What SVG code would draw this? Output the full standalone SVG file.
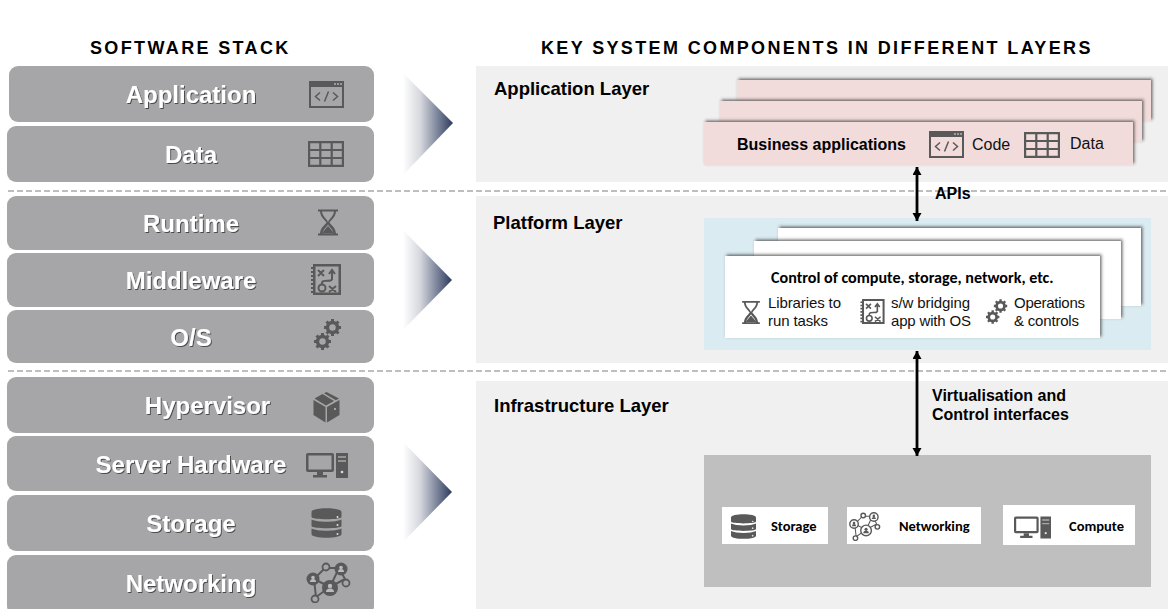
<svg xmlns="http://www.w3.org/2000/svg" width="1168" height="609" viewBox="0 0 1168 609">
<style>
text{font-family:"Liberation Sans",Arial,sans-serif}
.hd{font-size:18px;font-weight:700;letter-spacing:2.36px;fill:#000}
.st{fill:#a6a6a8}
.sl{font-size:24px;font-weight:700;fill:#fff;text-anchor:middle;filter:url(#ts)}
.ly{font-size:18.500px;font-weight:700;fill:#000}
.b16{font-size:16px;font-weight:700;fill:#000}
.r16{font-size:16px;fill:#111}
.r15{font-size:15px;fill:#111}
.cal{font-family:Carlito,"Open Sans","Liberation Sans",sans-serif;font-weight:700;fill:#000}
.ic{fill:#595959}
.ln{fill:none;stroke:#595959}
.dash{stroke:#7f7f7f;stroke-width:1.2;stroke-dasharray:6 3;fill:none}
.conn{stroke:#000;stroke-width:2.800;fill:none;marker-start:url(#ah);marker-end:url(#ah)}
</style>
<defs>
<filter id="ts" x="-10%" y="-20%" width="125%" height="150%"><feDropShadow dx="1" dy="1" stdDeviation="0.7" flood-color="#3a3a3a" flood-opacity="0.85"/></filter>
<filter id="bs" x="-3%" y="-15%" width="106%" height="130%"><feDropShadow dx="1.5" dy="-1.5" stdDeviation="1.6" flood-color="#333" flood-opacity="0.7"/></filter>
<linearGradient id="cg" x1="0" x2="1" y1="0" y2="0"><stop offset="0" stop-color="#fff"/><stop offset="0.35" stop-color="#d5d7dd"/><stop offset="1" stop-color="#2b3a5e"/></linearGradient>
<marker id="ah" markerUnits="userSpaceOnUse" markerWidth="10" markerHeight="10" refX="8" refY="4.500" orient="auto-start-reverse"><path d="M0 0L8 4.500L0 9Z" fill="#000"/></marker>
<symbol id="code" viewBox="0 0 35 27"><path class="ic" fill-rule="evenodd" d="M0 0H35V27H0ZM2 6V25H33V6Z"/><path d="M25 3h2M28 3h2M31 3h2" stroke="#ddd" stroke-width="1.2"/><path class="ln" stroke-width="1.5" d="M11 11.500L6.500 15.500L11 19.500M24 11.500L28.500 15.500L24 19.500M19.500 10.500L15.500 20.500"/></symbol>
<symbol id="grid" viewBox="0 0 36 26"><path class="ln" stroke-width="2.200" d="M1.100 1.100H34.900V24.900H1.100ZM1 9H35M1 17H35M12.300 1V25M23.700 1V25"/></symbol>
<symbol id="hour" viewBox="0 0 20 26"><path class="ic" d="M0 0H20V2H18C17.500 8 13 10.500 11.500 13C13 15.500 17.500 18 18 24H20V26H0V24H2C2.500 18 7 15.500 8.500 13C7 10.500 2.500 8 2 2H0ZM4 2C4.500 7 9 9.500 10 12.500C11 9.500 15.500 7 16 2ZM4.500 24H15.500C15 20 11.500 17.500 10 15C8.500 17.500 5 20 4.500 24Z"/><path class="ic" d="M3.500 24L10 16.500L16.500 24Z"/></symbol>
<symbol id="road" viewBox="0 0 30 31"><path class="ic" fill-rule="evenodd" d="M2 0H30V31H2ZM4.500 2.500V28.500H27.500V2.500Z"/><path class="ic" d="M0 3h2v2H0zM0 7h2v2H0zM0 11h2v2H0zM0 15h2v2H0zM0 19h2v2H0zM0 23h2v2H0zM0 27h2v2H0z"/><path class="ln" stroke-width="2" d="M7 6L13 12M13 6L7 12M18 22L25 28M25 22L18 28M21 16V7M18 10L21 6L24 10M21 15C21 19 10 14 11 20"/><circle class="ln" stroke-width="2" cx="11" cy="24" r="3.500"/></symbol>
<symbol id="gear" viewBox="0 0 28 33"><g class="ln" stroke-width="3.500"><circle cx="18.500" cy="9.500" r="5"/><circle cx="8.500" cy="23.500" r="5"/></g><g stroke="#595959" stroke-width="3"><path d="M18.500 1V4M18.500 15V18M10 9.500H13M24 9.500H27M12.500 3.500L14.500 5.500M22.500 13.500L24.500 15.500M24.500 3.500L22.500 5.500M14.500 13.500L12.500 15.500"/><path d="M8.500 15V18M8.500 29V32M0 23.500H3M14 23.500H17M2.500 17.500L4.500 19.500M12.500 27.500L14.500 29.500M14.500 17.500L12.500 19.500M4.500 27.500L2.500 29.500"/></g></symbol>
<symbol id="box" viewBox="0 0 27 31"><path class="ic" d="M14 15L26.500 8V23L14 30.500ZM12.500 15V30.500L0.500 23V8ZM1.500 6.500L9.500 2L21 9L13 13.500ZM11 1.200L13.500 0L26 6.500L22.800 8.200Z"/><circle cx="22" cy="17" r="1" fill="#bbb"/></symbol>
<symbol id="pc" viewBox="0 0 42 25"><path class="ic" fill-rule="evenodd" d="M2 0H26Q28 0 28 2V17Q28 19 26 19H2Q0 19 0 17V2Q0 0 2 0ZM2.500 2.500V16.500H25.500V2.500Z"/><path class="ic" d="M11 19H17V22H21V24.500H7V22H11ZM30 0H42V25H30Z"/><path d="M32 4H40M32 8H40" stroke="#a8a8a8" stroke-width="1.500"/><circle cx="36" cy="19" r="1.300" fill="#ddd"/></symbol>
<symbol id="db" viewBox="0 0 30 30"><path class="ic" d="M0 4C0 -1 30 -1 30 4V9C30 12 0 12 0 9ZM0 11.500C6 14.500 24 14.500 30 11.500V18C30 21 0 21 0 18ZM0 20.500C6 23.500 24 23.500 30 20.500V26C30 31 0 31 0 26Z"/><circle cx="26" cy="9" r="1" fill="#ddd"/><circle cx="26" cy="17" r="1" fill="#ddd"/><circle cx="26" cy="26" r="1" fill="#ddd"/></symbol>
<symbol id="net" viewBox="0 0 45 41"><path class="ln" stroke-width="2" d="M8 17L19 6L33 6L39 17L24 25L8 17M33 6L24 25M8 17L10 35L24 25"/><g class="ic"><circle cx="24" cy="26" r="8"/><circle cx="35" cy="7" r="6.500"/><circle cx="7" cy="17" r="6.500"/></g><g fill="none" stroke="#595959" stroke-width="1.800"><circle cx="20" cy="5" r="3.500" fill="#a6a6a8"/><circle cx="40" cy="21" r="3.500" fill="#a6a6a8"/><circle cx="9" cy="37" r="3.500" fill="#a6a6a8"/></g><g fill="#bbb"><circle cx="24" cy="24" r="2.200"/><path d="M20 30a4 3.500 0 0 1 8 0Z"/><circle cx="35" cy="5.500" r="1.800"/><path d="M32 10a3 3 0 0 1 6 0Z"/><circle cx="7" cy="15.500" r="1.800"/><path d="M4 20a3 3 0 0 1 6 0Z"/></g></symbol>
<symbol id="net2" viewBox="0 0 45 41"><path class="ln" stroke-width="1.500" d="M8 17L19 6L33 6L39 17L24 25L8 17M33 6L24 25M8 17L10 35L24 25"/><g fill="#fff" stroke="#595959" stroke-width="2"><circle cx="24" cy="26" r="7.500"/><circle cx="35" cy="7" r="6"/><circle cx="7" cy="17" r="6"/><circle cx="20" cy="5" r="3.200"/><circle cx="40" cy="21" r="3.200"/><circle cx="9" cy="37" r="3.200"/></g><g class="ic"><circle cx="24" cy="24.500" r="2.200"/><path d="M20 30a4 3.500 0 0 1 8 0Z"/><circle cx="35" cy="5.500" r="1.800"/><path d="M32 10a3 3 0 0 1 6 0Z"/><circle cx="7" cy="15.500" r="1.800"/><path d="M4 20a3 3 0 0 1 6 0Z"/></g></symbol>
</defs>

<rect width="1168" height="609" fill="#fff"/>
<text class="hd" x="90" y="54">SOFTWARE STACK</text>
<text class="hd" x="541" y="54">KEY SYSTEM COMPONENTS IN DIFFERENT LAYERS</text>

<g id="stack-application"><rect class="st" x="9" y="66" width="365" height="56" rx="9"/><text class="sl" x="191" y="103">Application</text><use href="#code" x="309" y="81" width="35" height="27"/></g>
<g id="stack-data"><rect class="st" x="7" y="126" width="367" height="56" rx="9"/><text class="sl" x="191" y="163">Data</text><use href="#grid" x="308" y="141" width="36" height="26"/></g>
<g id="stack-runtime"><rect class="st" x="7" y="196" width="367" height="54" rx="9"/><text class="sl" x="191" y="232">Runtime</text><use href="#hour" x="318" y="209" width="20" height="27"/></g>
<g id="stack-middleware"><rect class="st" x="7" y="253" width="367" height="54" rx="9"/><text class="sl" x="191" y="289">Middleware</text><use href="#road" x="311" y="264" width="30" height="31"/></g>
<g id="stack-os"><rect class="st" x="7" y="310" width="367" height="53" rx="9"/><text class="sl" x="191" y="346">O/S</text><use href="#gear" x="314" y="318" width="28" height="33"/></g>
<g id="stack-hypervisor"><rect class="st" x="7" y="377" width="367" height="56" rx="9"/><text class="sl" x="207.500" y="414">Hypervisor</text><use href="#box" x="313" y="392" width="27" height="31"/></g>
<g id="stack-server"><rect class="st" x="7" y="436" width="367" height="55" rx="9"/><text class="sl" x="191" y="473">Server Hardware</text><use href="#pc" x="306" y="453" width="42" height="25"/></g>
<g id="stack-storage"><rect class="st" x="7" y="495" width="367" height="56" rx="9"/><text class="sl" x="191" y="532">Storage</text><use href="#db" x="311" y="508" width="31" height="30"/></g>
<g id="stack-networking"><rect class="st" x="7" y="555" width="367" height="60" rx="9"/><text class="sl" x="191" y="592">Networking</text><use href="#net" x="306" y="562" width="45" height="41"/></g>

<path d="M403 73L453 123L403 175Z" fill="url(#cg)"/>
<path d="M403 230L452 280L403 330Z" fill="url(#cg)"/>
<path d="M403 442L452 492L403 542Z" fill="url(#cg)"/>

<g id="panels">
<rect x="476" y="66" width="692" height="116" fill="#f0f0f0"/>
<rect x="476" y="196" width="692" height="167" fill="#f0f0f0"/>
<rect x="476" y="381" width="692" height="228" fill="#f0f0f0"/>
</g>
<path class="dash" d="M8 191H1168M8 371H1168"/>

<text class="ly" x="494" y="95">Application Layer</text>
<text class="ly" x="493" y="229">Platform Layer</text>
<text class="ly" x="494" y="412">Infrastructure Layer</text>

<g id="business-applications">
<rect x="737" y="80" width="414" height="41" fill="#f2dcdb" filter="url(#bs)"/>
<rect x="720" y="101" width="422" height="41" fill="#f2dcdb" filter="url(#bs)"/>
<rect x="704" y="122" width="429" height="43" fill="#f2dcdb" filter="url(#bs)"/>
<text class="b16" x="737" y="150">Business applications</text>
<use href="#code" x="929" y="131" width="35" height="27"/>
<text class="r16" x="972" y="150">Code</text>
<use href="#grid" x="1024" y="132" width="36" height="26"/>
<text class="r16" x="1070" y="149">Data</text>
</g>

<g id="platform">
<rect x="704" y="218" width="447" height="132" fill="#daebf1"/>
<rect x="778" y="228" width="363" height="78" fill="#fff" filter="url(#bs)"/>
<rect x="754" y="241" width="367" height="78" fill="#fff" filter="url(#bs)"/>
<rect x="725" y="256" width="375" height="82" fill="#fff" filter="url(#bs)"/>
<text x="771" y="283" class="cal" font-size="16.100">Control of compute, storage, network, etc.</text>
<use href="#hour" x="742" y="301" width="18" height="23"/>
<text class="r15" x="768" y="308" textLength="73">Libraries to</text><text class="r15" x="768" y="326" textLength="60">run tasks</text>
<use href="#road" x="860" y="299" width="25" height="25"/>
<text class="r15" x="891" y="308" textLength="79">s/w bridging</text><text class="r15" x="891" y="326" textLength="80">app with OS</text>
<use href="#gear" x="986" y="298" width="22" height="27"/>
<text class="r15" x="1014" y="308" textLength="71">Operations</text><text class="r15" x="1014" y="326" textLength="65">&amp; controls</text>
</g>

<g id="infrastructure">
<rect x="704" y="455" width="447" height="132" fill="#bfbfbf"/>
<rect x="722" y="507" width="106" height="37" fill="#fff"/>
<use href="#db" x="731" y="514" width="25" height="25"/>
<text x="771" y="531" class="cal" font-size="14.500">Storage</text>
<rect x="847" y="507" width="134" height="37" fill="#fff"/>
<use href="#net2" x="849" y="512" width="32" height="29"/>
<text x="899" y="531" class="cal" font-size="14.500">Networking</text>
<rect x="1003" y="505" width="132" height="40" fill="#fff"/>
<use href="#pc" x="1014" y="516" width="37" height="23"/>
<text x="1069" y="531" class="cal" font-size="14.500">Compute</text>
</g>

<g id="connectors">
<path class="conn" d="M917 167V221"/>
<path class="conn" d="M917 351V456"/>
</g>
<text class="b16" x="935" y="199">APIs</text>
<text class="b16" x="932" y="401">Virtualisation and</text>
<text class="b16" x="932" y="420">Control interfaces</text>
</svg>
